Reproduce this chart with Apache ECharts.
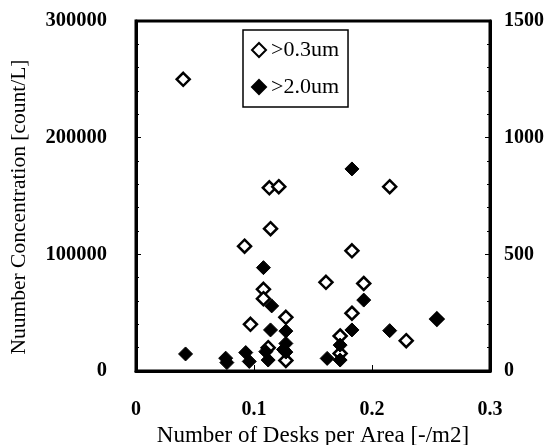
<!DOCTYPE html>
<html>
<head>
<meta charset="utf-8">
<script src="https://cdn.jsdelivr.net/npm/echarts@6/dist/echarts.min.js"></script>
<style>
  html, body { margin: 0; padding: 0; background: #fff; }
  #chart { width: 560px; height: 445px; }
</style>
</head>
<body>
<div id="chart"></div>
<script>
// Particle counts versus desk density.
// >0.3um counts use the left axis [count/L], >2.0um counts use the right axis.
const seriesNames = ['>0.3um', '>2.0um'];

const desksCoarse = [0.040, 0.113, 0.121, 0.215, 0.114, 0.092, 0.108, 0.108, 0.097, 0.127,
                     0.112, 0.127, 0.183, 0.161, 0.193, 0.183, 0.173, 0.173, 0.229, 0.255];
const countFine03 = [250000, 157000, 158000, 158000, 122000, 107000, 70000, 62000, 40000, 46000,
                     20000, 9000, 103000, 76000, 75000, 49500, 30000, 15000, 26000, 44500];

const desksLarge = [0.042, 0.076, 0.077, 0.093, 0.096, 0.108, 0.115, 0.114, 0.110, 0.112, 0.127,
                    0.127, 0.125, 0.127, 0.162, 0.173, 0.173, 0.193, 0.183, 0.183, 0.215, 0.255];
const countLarge20 = [73, 55, 36, 79, 41, 443, 279, 176, 83, 47, 171,
                      118, 92, 81, 54, 111, 47, 304, 176, 866, 173, 222];

const xTicks = [0, 0.1, 0.2, 0.3];
const leftTicks = [0, 100000, 200000, 300000];
const rightTicks = [0, 500, 1000, 1500];

const serif = '"Liberation Serif", "Times New Roman", serif';

const pairs = (xs, ys) => xs.map((x, i) => [x, ys[i]]);
const plain = v => String(v);

const chart = echarts.init(document.getElementById('chart'));
chart.setOption({
  animation: false,
  backgroundColor: '#fff',
  grid: {
    left: 136, right: 70, top: 21, bottom: 74,
    containLabel: false,
    outerBoundsMode: 'none',
    show: true, borderColor: '#000', borderWidth: 3, backgroundColor: 'transparent'
  },
  legend: {
    left: 243, top: 30,
    orient: 'vertical',
    padding: [9, 9, 9, 8],
    itemGap: 15,
    itemWidth: 14, itemHeight: 14,
    borderColor: '#000', borderWidth: 1.5,
    backgroundColor: '#fff',
    textStyle: { fontFamily: serif, fontSize: 22, color: '#000' },
    data: seriesNames
  },
  xAxis: {
    type: 'value',
    min: xTicks[0], max: xTicks[xTicks.length - 1], interval: 0.1,
    name: 'Number of Desks per Area [-/m2]',
    nameLocation: 'middle', nameGap: 49,
    nameTextStyle: { fontFamily: serif, fontSize: 23, color: '#000' },
    axisLine: { show: true, lineStyle: { color: '#000', width: 3 } },
    axisTick: { show: true, inside: true, length: 6, lineStyle: { color: '#000', width: 1 } },
    axisLabel: {
      fontFamily: serif, fontSize: 20, fontWeight: 'bold', color: '#000', margin: 29,
      formatter: v => (Math.abs(v) < 1e-9 ? '0' : String(+v.toFixed(1)))
    },
    splitLine: { show: false }
  },
  yAxis: [
    {
      type: 'value', position: 'left',
      min: leftTicks[0], max: leftTicks[leftTicks.length - 1], interval: 100000,
      name: 'Nuumber Concentration [count/L]',
      nameLocation: 'middle', nameGap: 106,
      nameTextStyle: { fontFamily: serif, fontSize: 21.5, color: '#000', padding: [0, 22, 0, 0] },
      axisLine: { show: true, lineStyle: { color: '#000', width: 3 } },
      axisTick: { show: true, inside: true, length: 5, lineStyle: { color: '#000', width: 1 } },
      minorTick: { show: true, splitNumber: 5, length: 3, lineStyle: { color: '#000', width: 1 } },
      axisLabel: { fontFamily: serif, fontSize: 20.5, fontWeight: 'bold', color: '#000', margin: 29, formatter: plain },
      splitLine: { show: false }
    },
    {
      type: 'value', position: 'right',
      min: rightTicks[0], max: rightTicks[rightTicks.length - 1], interval: 500,
      axisLine: { show: true, lineStyle: { color: '#000', width: 3 } },
      axisTick: { show: true, inside: true, length: 5, lineStyle: { color: '#000', width: 1 } },
      minorTick: { show: true, splitNumber: 5, length: 3, lineStyle: { color: '#000', width: 1 } },
      axisLabel: { fontFamily: serif, fontSize: 20, fontWeight: 'bold', color: '#000', margin: 14, formatter: plain },
      splitLine: { show: false }
    }
  ],
  series: [
    {
      name: seriesNames[0],
      type: 'scatter',
      yAxisIndex: 0,
      symbol: 'diamond',
      symbolSize: 13,
      itemStyle: { color: '#fff', borderColor: '#000', borderWidth: 2.5, opacity: 1 },
      data: pairs(desksCoarse, countFine03),
      z: 2
    },
    {
      name: seriesNames[1],
      type: 'scatter',
      yAxisIndex: 1,
      symbol: 'diamond',
      symbolSize: 14,
      itemStyle: { color: '#000', borderColor: '#000', borderWidth: 1, opacity: 1 },
      data: pairs(desksLarge, countLarge20),
      z: 3
    }
  ]
});
</script>
</body>
</html>
